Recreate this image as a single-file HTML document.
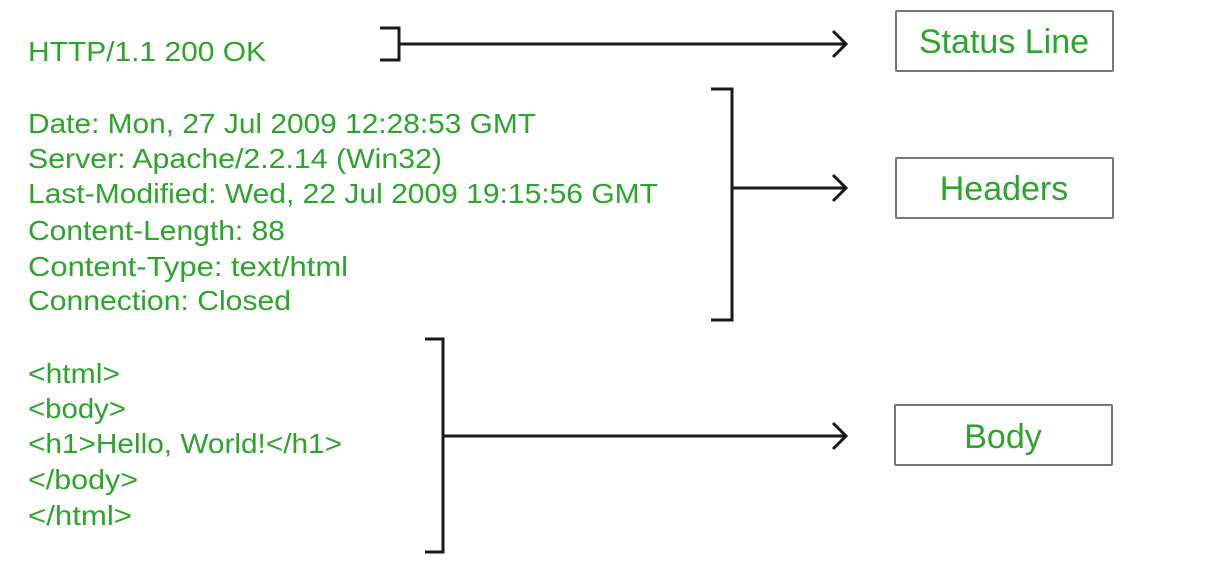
<!DOCTYPE html>
<html><head><style>html,body{margin:0;padding:0;background:#fff;}svg{display:block}</style></head>
<body>
<svg width="1221" height="574" xmlns="http://www.w3.org/2000/svg">
<g font-family="Liberation Sans, sans-serif" fill="#2ba52b" font-size="28">
<text x="28" y="61" textLength="238" lengthAdjust="spacingAndGlyphs">HTTP/1.1 200 OK</text>
<text x="28" y="133" textLength="508" lengthAdjust="spacingAndGlyphs">Date: Mon, 27 Jul 2009 12:28:53 GMT</text>
<text x="28" y="168" textLength="414" lengthAdjust="spacingAndGlyphs">Server: Apache/2.2.14 (Win32)</text>
<text x="28" y="203" textLength="630" lengthAdjust="spacingAndGlyphs">Last-Modified: Wed, 22 Jul 2009 19:15:56 GMT</text>
<text x="28" y="240" textLength="257" lengthAdjust="spacingAndGlyphs">Content-Length: 88</text>
<text x="28" y="276" textLength="320" lengthAdjust="spacingAndGlyphs">Content-Type: text/html</text>
<text x="28" y="310" textLength="263" lengthAdjust="spacingAndGlyphs">Connection: Closed</text>
<text x="28" y="383" textLength="92" lengthAdjust="spacingAndGlyphs">&lt;html&gt;</text>
<text x="28" y="418" textLength="98" lengthAdjust="spacingAndGlyphs">&lt;body&gt;</text>
<text x="28" y="453" textLength="314" lengthAdjust="spacingAndGlyphs">&lt;h1&gt;Hello, World!&lt;/h1&gt;</text>
<text x="28" y="489" textLength="110" lengthAdjust="spacingAndGlyphs">&lt;/body&gt;</text>
<text x="28" y="525" textLength="104" lengthAdjust="spacingAndGlyphs">&lt;/html&gt;</text>
</g>
<g fill="none" stroke="#1a1a1a" stroke-width="3">
<polyline points="380,28 399,28 399,60 380,60"/>
<line x1="399" y1="44" x2="846" y2="44"/>
<polyline points="833,31 846,44 833,57"/>
<polyline points="711,89 732,89 732,320 711,320"/>
<line x1="732" y1="188" x2="846" y2="188"/>
<polyline points="833,175 846,188 833,201"/>
<polyline points="425,339 443,339 443,552 425,552"/>
<line x1="443" y1="436" x2="846" y2="436"/>
<polyline points="833,423 846,436 833,449"/>
</g>
<g fill="none" stroke="#777" stroke-width="2">
<rect x="896" y="11" width="217" height="60" rx="1"/>
<rect x="896" y="158" width="217" height="60" rx="1"/>
<rect x="895" y="405" width="217" height="60" rx="1"/>
</g>
<g font-family="Liberation Sans, sans-serif" fill="#2ba52b" font-size="34" text-anchor="middle">
<text x="1004" y="53">Status Line</text>
<text x="1004" y="200">Headers</text>
<text x="1003" y="448">Body</text>
</g>
</svg>
</body></html>
